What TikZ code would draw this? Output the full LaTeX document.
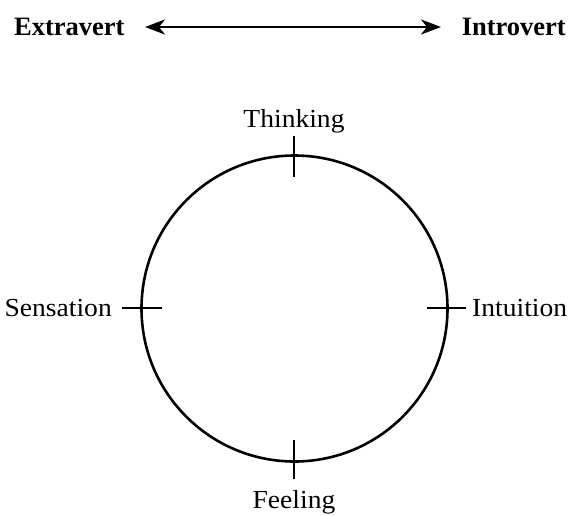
\documentclass[tikz,border=0pt]{standalone}
\usepackage{fontspec}
\setmainfont{Liberation Serif}
\newfontfamily\lblfont[FakeStretch=1.06]{Liberation Serif}
\usetikzlibrary{arrows.meta}
\tikzset{bigtip/.tip={Stealth[length=20pt,width=15pt,inset=6pt]}}
\begin{document}
\begin{tikzpicture}[x=1pt,y=-1pt,
  lbl/.style={inner sep=0pt,font=\lblfont\fontsize{26}{28}\selectfont},
  hdr/.style={inner sep=0pt,font=\fontsize{26.5}{30}\selectfont\bfseries},
  tick/.style={line width=1.4pt},
  wheel/.style={line width=2.6pt}]
\useasboundingbox (0,0) rectangle (575,515);
% header
\node[hdr,anchor=base west] (ex) at (14,35) {Extravert};
\node[hdr,anchor=base east] (in) at (566,35) {Introvert};
\coordinate (aL) at (145,27); \coordinate (aR) at (441,27);
\draw[line width=2.4pt,{bigtip}-{bigtip}] (aL) -- (aR);
% circle
\coordinate (c) at (294.5,308.5);
\node[wheel,draw,circle,minimum size=306pt,inner sep=0pt] (w) at (c) {};
% ticks
\coordinate (tT1) at (294,136); \coordinate (tT2) at (294,177);
\coordinate (tB1) at (294,440); \coordinate (tB2) at (294,479);
\coordinate (tL1) at (122,308); \coordinate (tL2) at (162,308);
\coordinate (tR1) at (427,308); \coordinate (tR2) at (466,308);
\draw[tick] (tT1) -- (tT2);
\draw[tick] (tB1) -- (tB2);
\draw[tick] (tL1) -- (tL2);
\draw[tick] (tR1) -- (tR2);
% labels
\node[lbl,anchor=base] (th) at (294,127) {Thinking};
\node[lbl,anchor=base] (fe) at (294,508) {Feeling};
\node[lbl,anchor=base east] (se) at (112,316) {Sensation};
\node[lbl,anchor=base west] (iu) at (472,316) {Intuition};
\end{tikzpicture}
\end{document}
